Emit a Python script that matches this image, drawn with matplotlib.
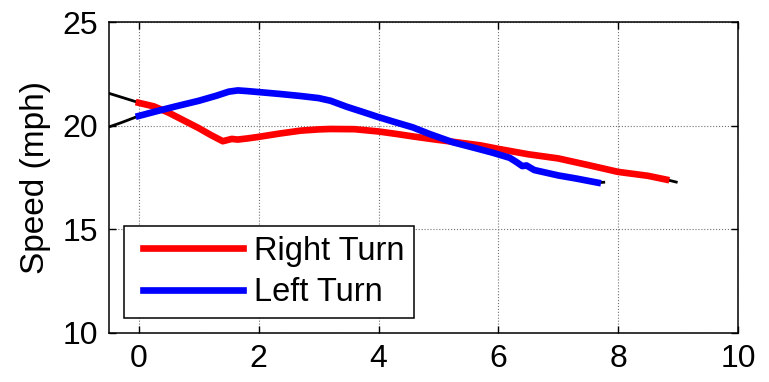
import matplotlib
matplotlib.use("Agg")
import matplotlib.pyplot as plt
from matplotlib.legend_handler import HandlerLine2D

# Right turn (red)
right_x = [0, 0.25, 0.5, 0.75, 1.0, 1.2, 1.4, 1.55, 1.65, 1.8, 2.0, 2.35, 2.7, 3.0, 3.2,
           3.6, 4.0, 4.3, 4.6, 4.9, 5.3, 5.7, 6.0, 6.5, 7.0, 7.5, 8.0, 8.5, 8.8]
right_y = [21.1, 20.93, 20.62, 20.25, 19.88, 19.55, 19.25, 19.36, 19.33, 19.38, 19.46,
           19.62, 19.76, 19.82, 19.84, 19.83, 19.72, 19.6, 19.47, 19.35, 19.2, 19.05,
           18.88, 18.62, 18.42, 18.1, 17.77, 17.58, 17.4]

# Left turn (blue)
left_x = [0, 0.3, 0.6, 1.0, 1.3, 1.5, 1.65, 1.8, 2.0, 2.35, 2.7, 3.0, 3.2, 3.47, 3.75,
          3.98, 4.3, 4.57, 4.85, 5.24, 5.6, 5.9, 6.19, 6.3, 6.4, 6.47, 6.6, 7.0, 7.3, 7.66]
left_y = [20.47, 20.7, 20.92, 21.2, 21.45, 21.64, 21.7, 21.67, 21.62, 21.53, 21.43, 21.33,
          21.2, 20.91, 20.65, 20.43, 20.15, 19.92, 19.6, 19.2, 18.93, 18.7, 18.45, 18.25,
          18.05, 18.08, 17.86, 17.6, 17.45, 17.25]

# Black approach / exit segments
pre_x = [-0.6, -0.3, 0]
pre_right_y = [21.65, 21.38, 21.11]
pre_left_y = [19.84, 20.14, 20.47]
post_right_x = [8.8, 8.97]
post_right_y = [17.4, 17.28]
post_left_x = [7.66, 7.76]
post_left_y = [17.25, 17.27]

xticks = [0, 2, 4, 6, 8, 10]
yticks = [10, 15, 20, 25]

plt.rcParams['font.family'] = ['Liberation Sans', 'DejaVu Sans']


class ShiftedLineHandler(HandlerLine2D):
    def create_artists(self, legend, orig_handle, xdescent, ydescent, width, height,
                       fontsize, trans):
        shift = 0.28 * fontsize
        return super().create_artists(legend, orig_handle, xdescent - shift, ydescent,
                                      width, height, fontsize, trans)


fig = plt.figure(figsize=(7.69, 3.82), dpi=100)
ax = fig.add_axes([0.1417, 0.1283, 0.8179, 0.8141])

ax.plot(pre_x, pre_right_y, color='black', lw=2.0, zorder=2)
ax.plot(pre_x, pre_left_y, color='black', lw=2.0, zorder=2)
ax.plot(post_right_x, post_right_y, color='black', lw=2.0, zorder=2)
ax.plot(post_left_x, post_left_y, color='black', lw=2.0, zorder=2)
lr, = ax.plot(right_x, right_y, color='#ff0000', lw=4.8, label='Right Turn', zorder=3)
lb, = ax.plot(left_x, left_y, color='#0000ff', lw=4.8, label='Left Turn', zorder=4)

ax.set_xlim(-0.5, 10)
ax.set_ylim(10, 25)
ax.set_xticks(xticks)
ax.set_yticks(yticks)
ax.grid(True, linestyle=':', color='0.45', linewidth=0.8)
ax.set_axisbelow(True)
ax.tick_params(direction='in', length=5, width=1, labelsize=23, top=True, right=True,
               pad=8)
for s in ax.spines.values():
    s.set_linewidth(1.1)
ax.set_ylabel('Speed (mph)', fontsize=24, labelpad=8)

h = ShiftedLineHandler()
leg = ax.legend(handles=[lr, lb], loc='lower left', bbox_to_anchor=(0.0238, 0.048),
                borderaxespad=0, fontsize=23.5, handlelength=3.07, handletextpad=0.61,
                labelspacing=0.32, borderpad=0.3, fancybox=False, framealpha=1,
                edgecolor='black', handler_map={lr: h, lb: h})
leg.get_frame().set_linewidth(1.1)

fig.savefig('out.png', dpi=100)
